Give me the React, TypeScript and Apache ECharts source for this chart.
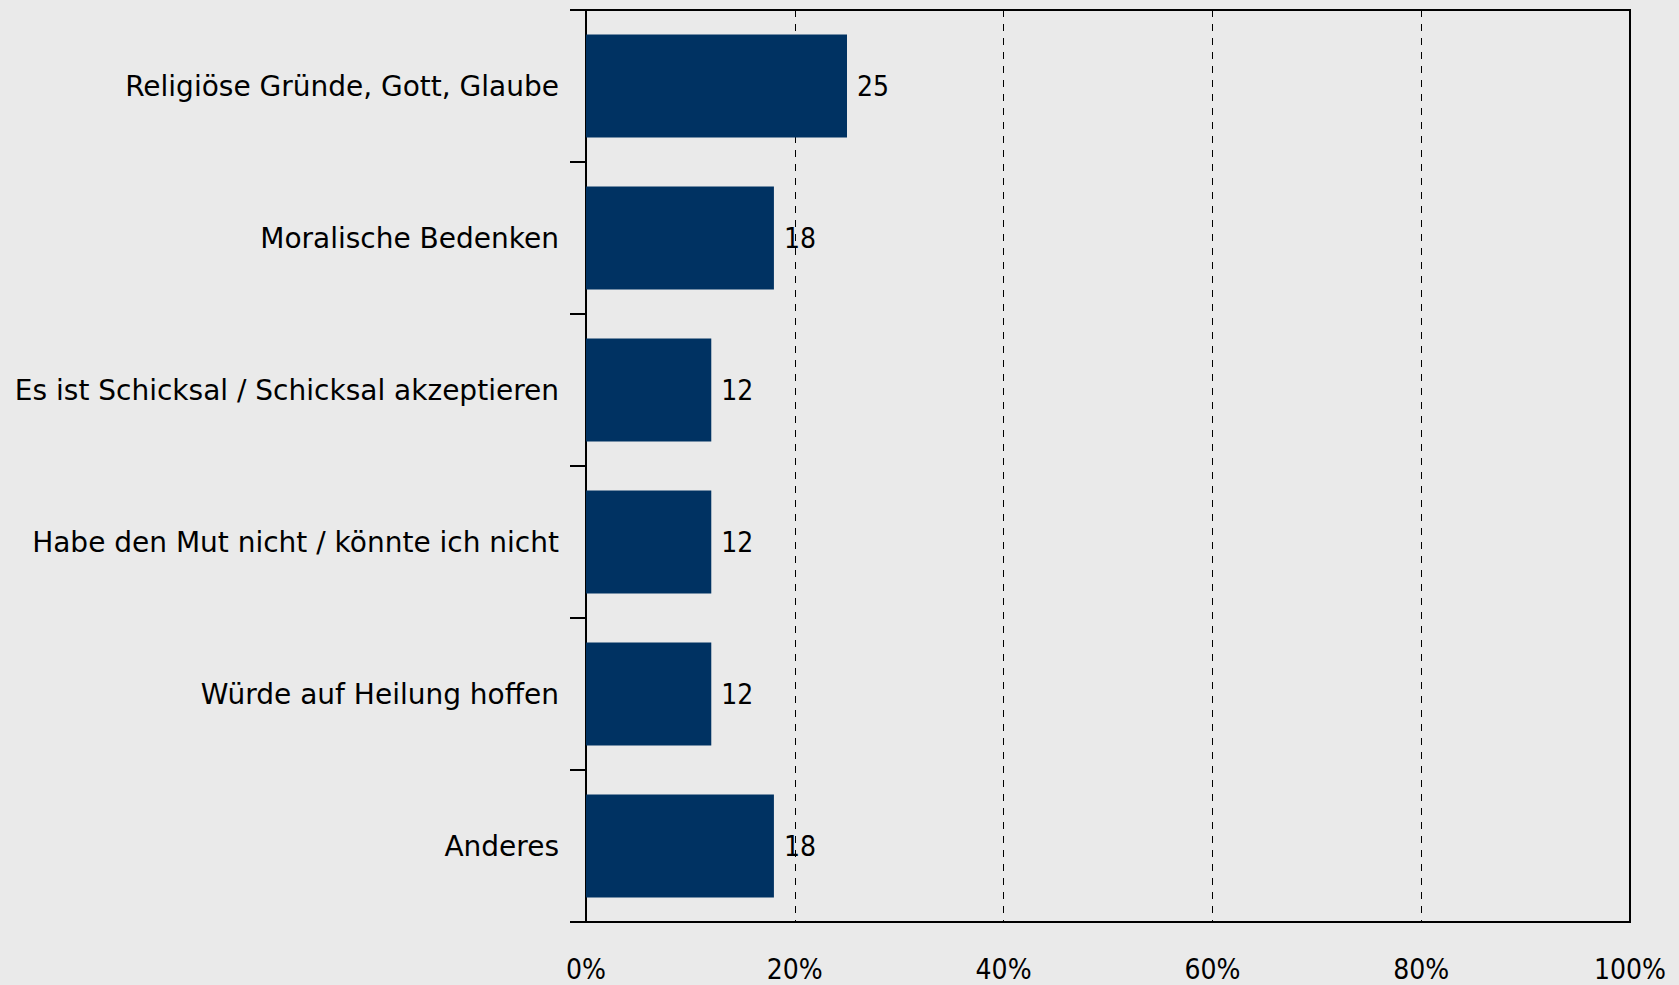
import React, { useEffect, useRef } from "react";
import * as echarts from "echarts";

const categories = [
  "Religiöse Gründe, Gott, Glaube",
  "Moralische Bedenken",
  "Es ist Schicksal / Schicksal akzeptieren",
  "Habe den Mut nicht / könnte ich nicht",
  "Würde auf Heilung hoffen",
  "Anderes",
];
const values = [25, 18, 12, 12, 12, 18];
const xTicks = [0, 20, 40, 60, 80, 100];

const FONT_NUM = "'DejaVu Sans Condensed', 'DejaVu Sans', sans-serif";
const FONT_CAT = "'DejaVu Sans', sans-serif";

export default function App() {
  const ref = useRef<HTMLDivElement>(null);
  useEffect(() => {
    if (!ref.current) return;
    const chart = echarts.init(ref.current, null, { renderer: "svg" });
    chart.setOption({
      animation: false,
      backgroundColor: "#eaeaea",
      grid: {
        left: 586,
        right: 49,
        top: 10,
        bottom: 63,
        show: true,
        borderColor: "#000",
        borderWidth: 2,
        backgroundColor: "transparent",
      },
      xAxis: {
        type: "value",
        min: xTicks[0],
        max: xTicks[xTicks.length - 1],
        interval: 20,
        axisLine: { show: true, lineStyle: { color: "#000", width: 2 } },
        axisTick: { show: false },
        axisLabel: {
          formatter: "{value}%",
          color: "#000",
          fontSize: 28,
          fontFamily: FONT_NUM,
          margin: 33,
        },
        splitLine: {
          show: true,
          lineStyle: { color: "#000", width: 1, type: [7, 7] },
        },
      },
      yAxis: {
        type: "category",
        inverse: true,
        data: categories,
        axisLine: { show: true, lineStyle: { color: "#000", width: 2 } },
        axisTick: {
          show: true,
          length: 16,
          alignWithLabel: false,
          lineStyle: { color: "#000", width: 2 },
        },
        axisLabel: {
          color: "#000",
          fontSize: 28,
          fontFamily: FONT_CAT,
          margin: 27,
        },
        splitLine: { show: false },
      },
      series: [
        {
          type: "bar",
          data: values,
          barWidth: 103,
          itemStyle: { color: "#003262" },
          label: {
            show: true,
            position: "right",
            distance: 10,
            color: "#000",
            fontSize: 28,
            fontFamily: FONT_NUM,
          },
        },
      ],
    });
    return () => chart.dispose();
  }, []);
  return (
    <div
      ref={ref}
      style={{ position: "fixed", left: 0, top: 0, width: 1679, height: 985 }}
    />
  );
}
